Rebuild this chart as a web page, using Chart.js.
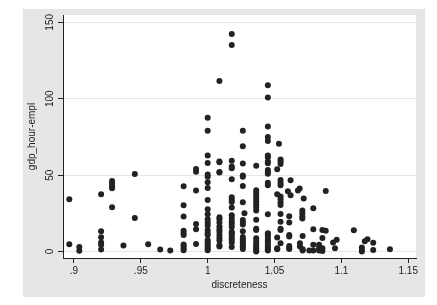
<!DOCTYPE html>
<html>
<head>
<meta charset="utf-8">
<script src="https://cdn.jsdelivr.net/npm/chart.js@4"></script>
<style>
  html, body { margin: 0; padding: 0; background: #fff; }
  #wrap { width: 437px; height: 305px; }
</style>
</head>
<body>
<div id="wrap"><canvas id="chart"></canvas></div>
<script>
// ===== DATA =====
// one entry per point, listed column by column (left to right)
const discreteness = [
  0.8965, 0.8965,
  0.904, 0.904,
  0.9203, 0.9203, 0.9203, 0.9203, 0.9203, 0.9203,
  0.9285, 0.9285, 0.9285, 0.9285, 0.9285,
  0.937,
  0.9455, 0.9455,
  0.9555, 0.9645, 0.972,
  0.982, 0.982, 0.982, 0.982, 0.982, 0.982, 0.982, 0.982, 0.982, 0.982,
  0.9913, 0.9913, 0.9913, 0.9913, 0.9913, 0.9913,
  1, 1, 1, 1, 1, 1, 1, 1, 1, 1, 1, 1, 1, 1, 1, 1, 1, 1, 1, 1, 1, 1, 1,
  1.0088, 1.0088, 1.0088, 1.0088, 1.0088, 1.0088, 1.0088, 1.0088, 1.0088, 1.0088, 1.0088, 1.0088, 1.0088, 1.0088, 1.0088, 1.0088,
  1.018, 1.018, 1.018, 1.018, 1.018, 1.018, 1.018, 1.018, 1.018, 1.018, 1.018, 1.018, 1.018, 1.018, 1.018, 1.018, 1.018, 1.018, 1.018, 1.018, 1.018, 1.018,
  1.0263, 1.0263, 1.0263, 1.0263, 1.0263, 1.0263, 1.0263, 1.0263, 1.0263, 1.0263, 1.0263, 1.0263, 1.0263, 1.0263, 1.0263, 1.0263, 1.0263, 1.0263, 1.0275,
  1.0363, 1.0363, 1.0363, 1.0363, 1.0363, 1.0363, 1.0363, 1.0363, 1.0363, 1.0363, 1.0363, 1.0363, 1.0363, 1.0363, 1.0363, 1.0363, 1.0363, 1.0363, 1.0363,
  1.045, 1.045, 1.045, 1.045, 1.045, 1.045, 1.045, 1.045, 1.045, 1.045, 1.045, 1.045, 1.045, 1.045, 1.045, 1.045, 1.045, 1.045, 1.045, 1.045, 1.045, 1.045, 1.045, 1.045,
  1.0533,
  1.0545, 1.0545, 1.0545, 1.0545, 1.0545, 1.0545, 1.0545, 1.0545, 1.0545, 1.0545, 1.0545, 1.0545, 1.0545, 1.0545, 1.0545,
  1.052, 1.052, 1.052, 1.052, 1.052,
  1.06, 1.062, 1.062,
  1.061, 1.061, 1.061, 1.061, 1.061, 1.061, 1.061,
  1.0688, 1.0675, 1.0718,
  1.0708, 1.0708, 1.0708, 1.0708, 1.071, 1.069, 1.069, 1.071, 1.071,
  1.076,
  1.079, 1.079, 1.079, 1.079,
  1.0833, 1.0833, 1.0833,
  1.0858, 1.0858, 1.0858, 1.0858,
  1.0883, 1.0883,
  1.0938, 1.0952, 1.0965,
  1.1093,
  1.1153, 1.1153, 1.1153,
  1.1175, 1.1195,
  1.1238, 1.1238,
  1.1363
];
const gdpHourEmpl = [
  34.2, 4.8,
  3, 0.5,
  37.5, 13.3, 9.4, 5.9, 4.5, 1.3,
  46.2, 44.4, 42.7, 41.4, 29,
  3.9,
  50.8, 22,
  4.8, 1.3, 0.7,
  42.7, 30.3, 22.9, 13.7, 12.2, 10.9, 4.6, 3.7, 2.2, 0.9,
  54, 52.3, 39.9, 18.1, 14.6, 5,
  87.6, 79, 62.8, 58, 50.4, 49, 45.3, 41.6, 33.8, 27.7, 24.4, 21.1, 19, 17, 14.2, 12.2, 10.9, 7.6, 6.1, 4.8, 3.3, 2, 0.9,
  111.6, 59, 58.4, 52, 51.7, 22.5, 21.1, 19, 16.4, 14.6, 13, 10.9, 8.9, 7.2, 4.1, 3.3,
  142.4, 135.2, 59.5, 55.6, 54.5, 47.3, 35.5, 33.8, 32.5, 28.8, 23.8, 21.6, 19.6, 18.1, 16.1, 12.9, 12, 10.5, 8.9, 7.6, 5.9, 3,
  79.1, 68.9, 57.6, 49.7, 49, 42.9, 32.3, 20.7, 19, 17.7, 13.3, 9.6, 8.1, 6.8, 5.5, 3.9, 2.8, 1.7, 25,
  56.2, 40.1, 38.2, 36.4, 34.4, 32.7, 31, 29, 26.8, 20.9, 15, 14.2, 8.7, 6.8, 4.8, 3.3, 2.2, 0.9, 0,
  108.8, 100.9, 81.8, 75, 72.4, 62.8, 61.7, 59, 57.8, 53.4, 52.1, 51, 45.1, 43.4, 24.4, 12, 10.7, 8.9, 7.2, 5.9, 4.4, 2.8, 1.5, 0.7,
  70.6,
  60.2, 58.9, 57.3, 46.9, 45, 43.4, 36, 34.2, 32.3, 30.5, 24.6, 19.6, 15, 14.2, 5.5,
  53.8, 37.5, 9.2, 2.2, 1.5,
  39.5, 46.7, 36.8,
  23.1, 19, 10.9, 9.8, 3.7, 2.4, 1.7,
  41.2, 39.9, 34.7,
  26.8, 25, 22.9, 21.6, 10.2, 5.5, 3.3, 1.5, 0.7,
  0.7,
  28.3, 14.6, 4.4, 0.7,
  4.4, 2.2, 0.7,
  14.2, 8.9, 2.2, 0.4,
  39.7, 13.7,
  5.9, 2.2, 7.8,
  14,
  2.6, 1.1, 0,
  6.8, 8.1,
  5.7, 1.1,
  1.5
];

const xTickValues = [0.9, 0.95, 1, 1.05, 1.1, 1.15];
const xTickLabels = ['.9', '.95', '1', '1.05', '1.1', '1.15'];
const yTickValues = [0, 50, 100, 150];
const yTickLabels = ['0', '50', '100', '150'];

const points = discreteness.map((x, i) => ({ x, y: gdpHourEmpl[i] }));

const FONT = "'Liberation Sans', Arial, sans-serif";
const INK = '#222222';

// gray graph region, white plot region
const backdrop = {
  id: 'backdrop',
  beforeDraw(chart) {
    const { ctx, chartArea: a } = chart;
    ctx.save();
    ctx.fillStyle = '#fff';
    ctx.fillRect(0, 0, chart.width, chart.height);
    ctx.fillStyle = '#e6e6e6';
    ctx.fillRect(23, 9, 402, 288);
    ctx.fillStyle = '#fff';
    ctx.fillRect(a.left, a.top, a.right - a.left, a.bottom - a.top);
    ctx.restore();
  }
};

// stata-style vertical y tick labels
const yLabels = {
  id: 'yLabels',
  afterDraw(chart) {
    const { ctx } = chart;
    const y = chart.scales.y;
    ctx.save();
    ctx.fillStyle = INK;
    ctx.font = `10px ${FONT}`;
    ctx.textAlign = 'center';
    ctx.textBaseline = 'middle';
    yTickValues.forEach((v, i) => {
      ctx.save();
      ctx.translate(50, y.getPixelForValue(v));
      ctx.rotate(-Math.PI / 2);
      ctx.fillText(yTickLabels[i], 0, 0);
      ctx.restore();
    });
    ctx.restore();
  }
};

new Chart(document.getElementById('chart').getContext('2d'), {
  type: 'scatter',
  data: {
    datasets: [{
      data: points,
      backgroundColor: INK,
      borderColor: INK,
      borderWidth: 0,
      pointRadius: 3,
      pointHoverRadius: 3
    }]
  },
  options: {
    responsive: true,
    maintainAspectRatio: false,
    animation: false,
    events: [],
    layout: { padding: { left: 0, top: 15, right: 21, bottom: 0 } },
    plugins: {
      legend: { display: false },
      tooltip: { enabled: false }
    },
    scales: {
      x: {
        type: 'linear',
        min: 0.8918,
        max: 1.1558,
        afterBuildTicks(scale) { scale.ticks = xTickValues.map(v => ({ value: v })); },
        afterFit(scale) { scale.height = 47; },
        border: { display: true, color: INK, width: 1 },
        grid: { display: true, drawOnChartArea: false, drawTicks: true, tickLength: 5, tickColor: INK },
        ticks: {
          color: INK,
          font: { family: FONT, size: 10 },
          padding: 2,
          maxRotation: 0,
          autoSkip: false,
          callback(v) { const i = xTickValues.indexOf(v); return i >= 0 ? xTickLabels[i] : ''; }
        },
        title: {
          display: true,
          text: 'discreteness',
          color: INK,
          font: { family: FONT, size: 10 },
          padding: { top: 0, bottom: 14 }
        }
      },
      y: {
        type: 'linear',
        min: -4.2,
        max: 154.8,
        afterBuildTicks(scale) { scale.ticks = yTickValues.map(v => ({ value: v })); },
        afterFit(scale) { scale.width = 63; },
        border: { display: true, color: INK, width: 1 },
        grid: { display: true, color: '#e6e6e6', drawTicks: true, tickLength: 5, tickColor: INK },
        ticks: { display: false },
        title: {
          display: true,
          text: 'gdp_hour-empl',
          color: INK,
          font: { family: FONT, size: 10 },
          padding: { top: 26, bottom: 0 }
        }
      }
    }
  },
  plugins: [backdrop, yLabels]
});
</script>
</body>
</html>
